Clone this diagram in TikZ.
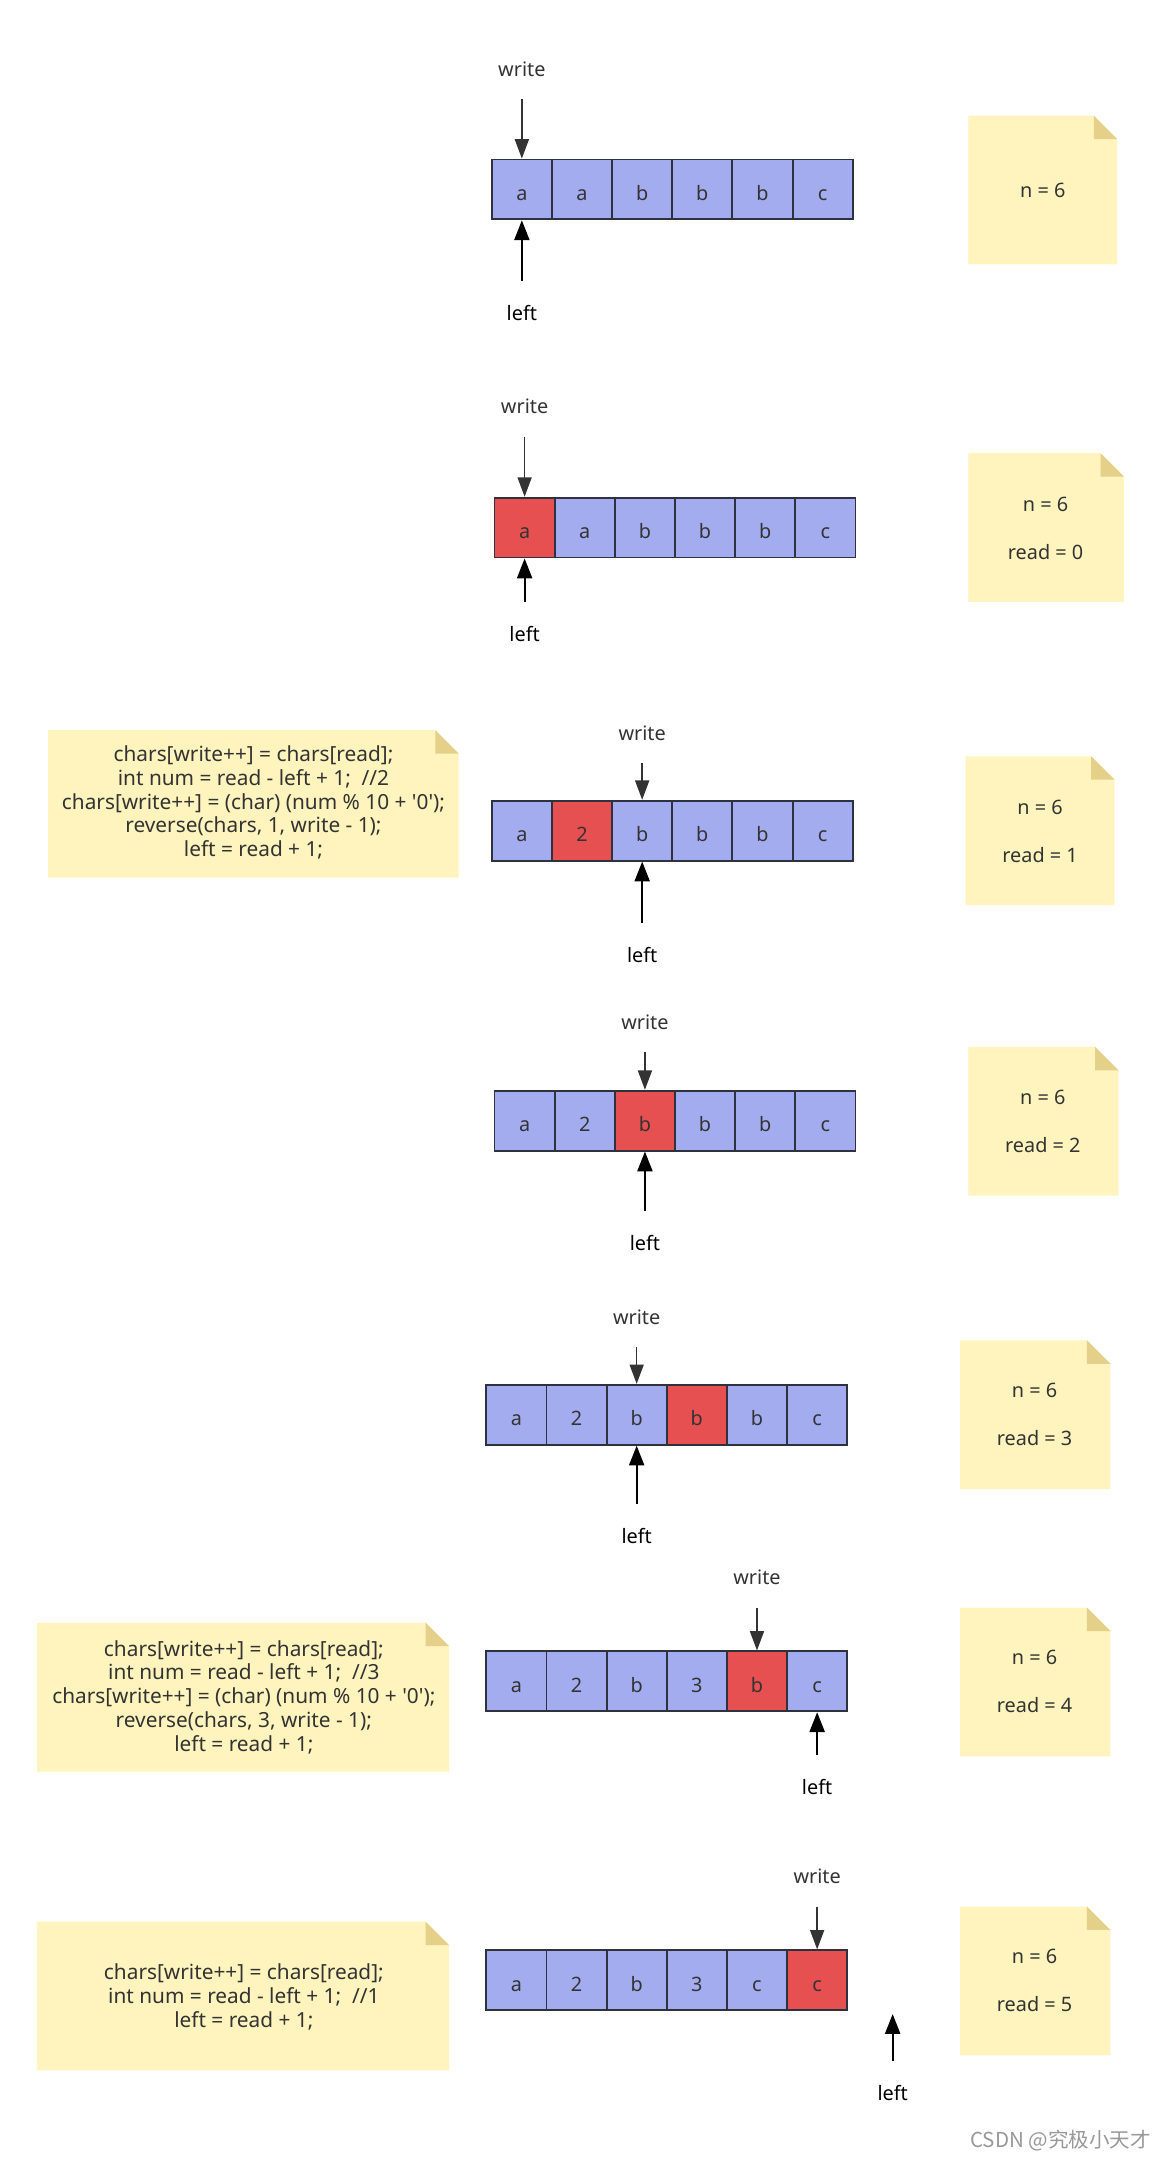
\documentclass[tikz,border=0pt]{standalone}
\usepackage{fontspec}
\setmainfont{Noto Sans}[Ligatures=TeXOff]
\newfontfamily\cjk{Noto Sans CJK SC}
\usetikzlibrary{arrows.meta}
\definecolor{cellblue}{RGB}{164,172,240}
\definecolor{cellred}{RGB}{230,80,80}
\definecolor{edge}{RGB}{46,50,62}
\definecolor{ink}{RGB}{51,51,51}
\definecolor{memofill}{RGB}{255,244,190}
\definecolor{memofold}{RGB}{228,208,136}
\tikzset{
  cell/.style={draw=edge, line width=0.75pt, minimum width=0.873cm, minimum height=0.87cm, inner sep=0pt, text=ink, text height=0.9em, text depth=0pt},
  lbl/.style={text=ink, inner sep=1pt},
  wptr/.style={draw=ink, line width=0.65pt, -{Triangle[length=8pt,width=5.8pt]}, shorten <=0.44cm},
  lptr/.style={draw=black, line width=0.9pt, -{Triangle[length=8.2pt,width=6.2pt]}, shorten <=0.46cm},
  memotxt/.style={text=ink, align=center, inner sep=0pt},
  codetxt/.style={memotxt, font=\fontsize{8.6}{9.85}\selectfont},
}
% sticky note with folded corner
\newcommand\memo[4]{%
  \fill[memofill] (#1,#2) -- ({#3-17},#2) -- (#3,{#2+17}) -- (#3,#4) -- (#1,#4) -- cycle;
  \fill[memofold] ({#3-17},#2) -- ({#3-17},{#2+17}) -- (#3,{#2+17}) -- cycle;}
\begin{document}
\begin{tikzpicture}[x=0.02cm, y=-0.02cm, font=\fontsize{8.2}{9.9}\selectfont]
\fill[white] (0,0) rectangle (843,1568);
\useasboundingbox (0,0) rectangle (843,1568);

% step 1
\foreach \t/\f [count=\i] in {a/cellblue,a/cellblue,b/cellblue,b/cellblue,b/cellblue,c/cellblue}
  \node[cell, fill=\f] (r1c\i) at ({357+21.83+(\i-1)*43.67},137.5) {\t};
\node[lbl] (w1) at (r1c1.north |- 0,50) {write};
\node[lbl, text=black] (l1) at (r1c1.south |- 0,227) {left};
\draw[wptr] (w1.center) -- (r1c1.north);
\draw[lptr] (l1.center) -- (r1c1.south);
\memo{703}{84}{811}{192}
\node[memotxt] (m1) at (757,138) {n = 6};

% step 2
\foreach \t/\f [count=\i] in {a/cellred,a/cellblue,b/cellblue,b/cellblue,b/cellblue,c/cellblue}
  \node[cell, fill=\f] (r2c\i) at ({359+21.83+(\i-1)*43.67},383) {\t};
\node[lbl] (w2) at (r2c1.north |- 0,295) {write};
\node[lbl, text=black] (l2) at (r2c1.south |- 0,460) {left};
\draw[wptr] (w2.center) -- (r2c1.north);
\draw[lptr] (l2.center) -- (r2c1.south);
\memo{703}{329}{816}{437}
\node[memotxt] (m2) at (759,383.5) {n = 6\\[10pt]read = 0};

% step 3
\foreach \t/\f [count=\i] in {a/cellblue,2/cellred,b/cellblue,b/cellblue,b/cellblue,c/cellblue}
  \node[cell, fill=\f] (r3c\i) at ({357+21.83+(\i-1)*43.67},603) {\t};
\node[lbl] (w3) at (r3c3.north |- 0,532) {write};
\node[lbl, text=black] (l3) at (r3c3.south |- 0,693) {left};
\draw[wptr] (w3.center) -- (r3c3.north);
\draw[lptr] (l3.center) -- (r3c3.south);
\memo{701}{549}{809}{657}
\node[memotxt] (m3) at (755,603.5) {n = 6\\[10pt]read = 1};
\memo{35}{530}{333}{637}
\node[codetxt] (c3) at (184,582.5) {chars[write++] = chars[read];\\
  int num = read - left + 1;\ \ //2\\
  chars[write++] = (char) (num \% 10 + '0');\\
  reverse(chars, 1, write - 1);\\
  left = read + 1;};

% step 4
\foreach \t/\f [count=\i] in {a/cellblue,2/cellblue,b/cellred,b/cellblue,b/cellblue,c/cellblue}
  \node[cell, fill=\f] (r4c\i) at ({359+21.83+(\i-1)*43.67},813.5) {\t};
\node[lbl] (w4) at (r4c3.north |- 0,742) {write};
\node[lbl, text=black] (l4) at (r4c3.south |- 0,902) {left};
\draw[wptr] (w4.center) -- (r4c3.north);
\draw[lptr] (l4.center) -- (r4c3.south);
\memo{703}{760}{812}{868}
\node[memotxt] (m4) at (757,814) {n = 6\\[10pt]read = 2};

% step 5
\foreach \t/\f [count=\i] in {a/cellblue,2/cellblue,b/cellblue,b/cellred,b/cellblue,c/cellblue}
  \node[cell, fill=\f] (r5c\i) at ({353+21.83+(\i-1)*43.67},1027) {\t};
\node[lbl] (w5) at (r5c3.north |- 0,956) {write};
\node[lbl, text=black] (l5) at (r5c3.south |- 0,1115) {left};
\draw[wptr] (w5.center) -- (r5c3.north);
\draw[lptr] (l5.center) -- (r5c3.south);
\memo{697}{973}{806}{1081}
\node[memotxt] (m5) at (751,1027) {n = 6\\[10pt]read = 3};

% step 6
\foreach \t/\f [count=\i] in {a/cellblue,2/cellblue,b/cellblue,3/cellblue,b/cellred,c/cellblue}
  \node[cell, fill=\f] (r6c\i) at ({353+21.83+(\i-1)*43.67},1220.5) {\t};
\node[lbl] (w6) at (r6c5.north |- 0,1145) {write};
\node[lbl, text=black] (l6) at (r6c6.south |- 0,1297) {left};
\draw[wptr] (w6.center) -- (r6c5.north);
\draw[lptr] (l6.center) -- (r6c6.south);
\memo{697}{1167}{806}{1275}
\node[memotxt] (m6) at (751,1220.5) {n = 6\\[10pt]read = 4};
\memo{27}{1178}{326}{1286}
\node[codetxt] (c6) at (177,1232) {chars[write++] = chars[read];\\
  int num = read - left + 1;\ \ //3\\
  chars[write++] = (char) (num \% 10 + '0');\\
  reverse(chars, 3, write - 1);\\
  left = read + 1;};

% step 7
\foreach \t/\f [count=\i] in {a/cellblue,2/cellblue,b/cellblue,3/cellblue,c/cellblue,c/cellred}
  \node[cell, fill=\f] (r7c\i) at ({353+21.83+(\i-1)*43.67},1437.5) {\t};
\node[lbl] (w7) at (r7c6.north |- 0,1362) {write};
\coordinate (lt7) at (648,1462);
\node[lbl, text=black] (l7) at (648,1519) {left};
\draw[wptr] (w7.center) -- (r7c6.north);
\draw[lptr] (l7.center) -- (lt7);
\memo{697}{1384}{806}{1492}
\node[memotxt] (m7) at (751,1437.5) {n = 6\\[10pt]read = 5};
\memo{27}{1395}{326}{1503}
\node[codetxt] (c7) at (177,1449.5) {chars[write++] = chars[read];\\
  int num = read - left + 1;\ \ //1\\
  left = read + 1;};

\node[text=black!40, font=\cjk\fontsize{8.5}{10}\selectfont] (mark) at (770,1554) {CSDN @究极小天才};
\end{tikzpicture}
\end{document}
